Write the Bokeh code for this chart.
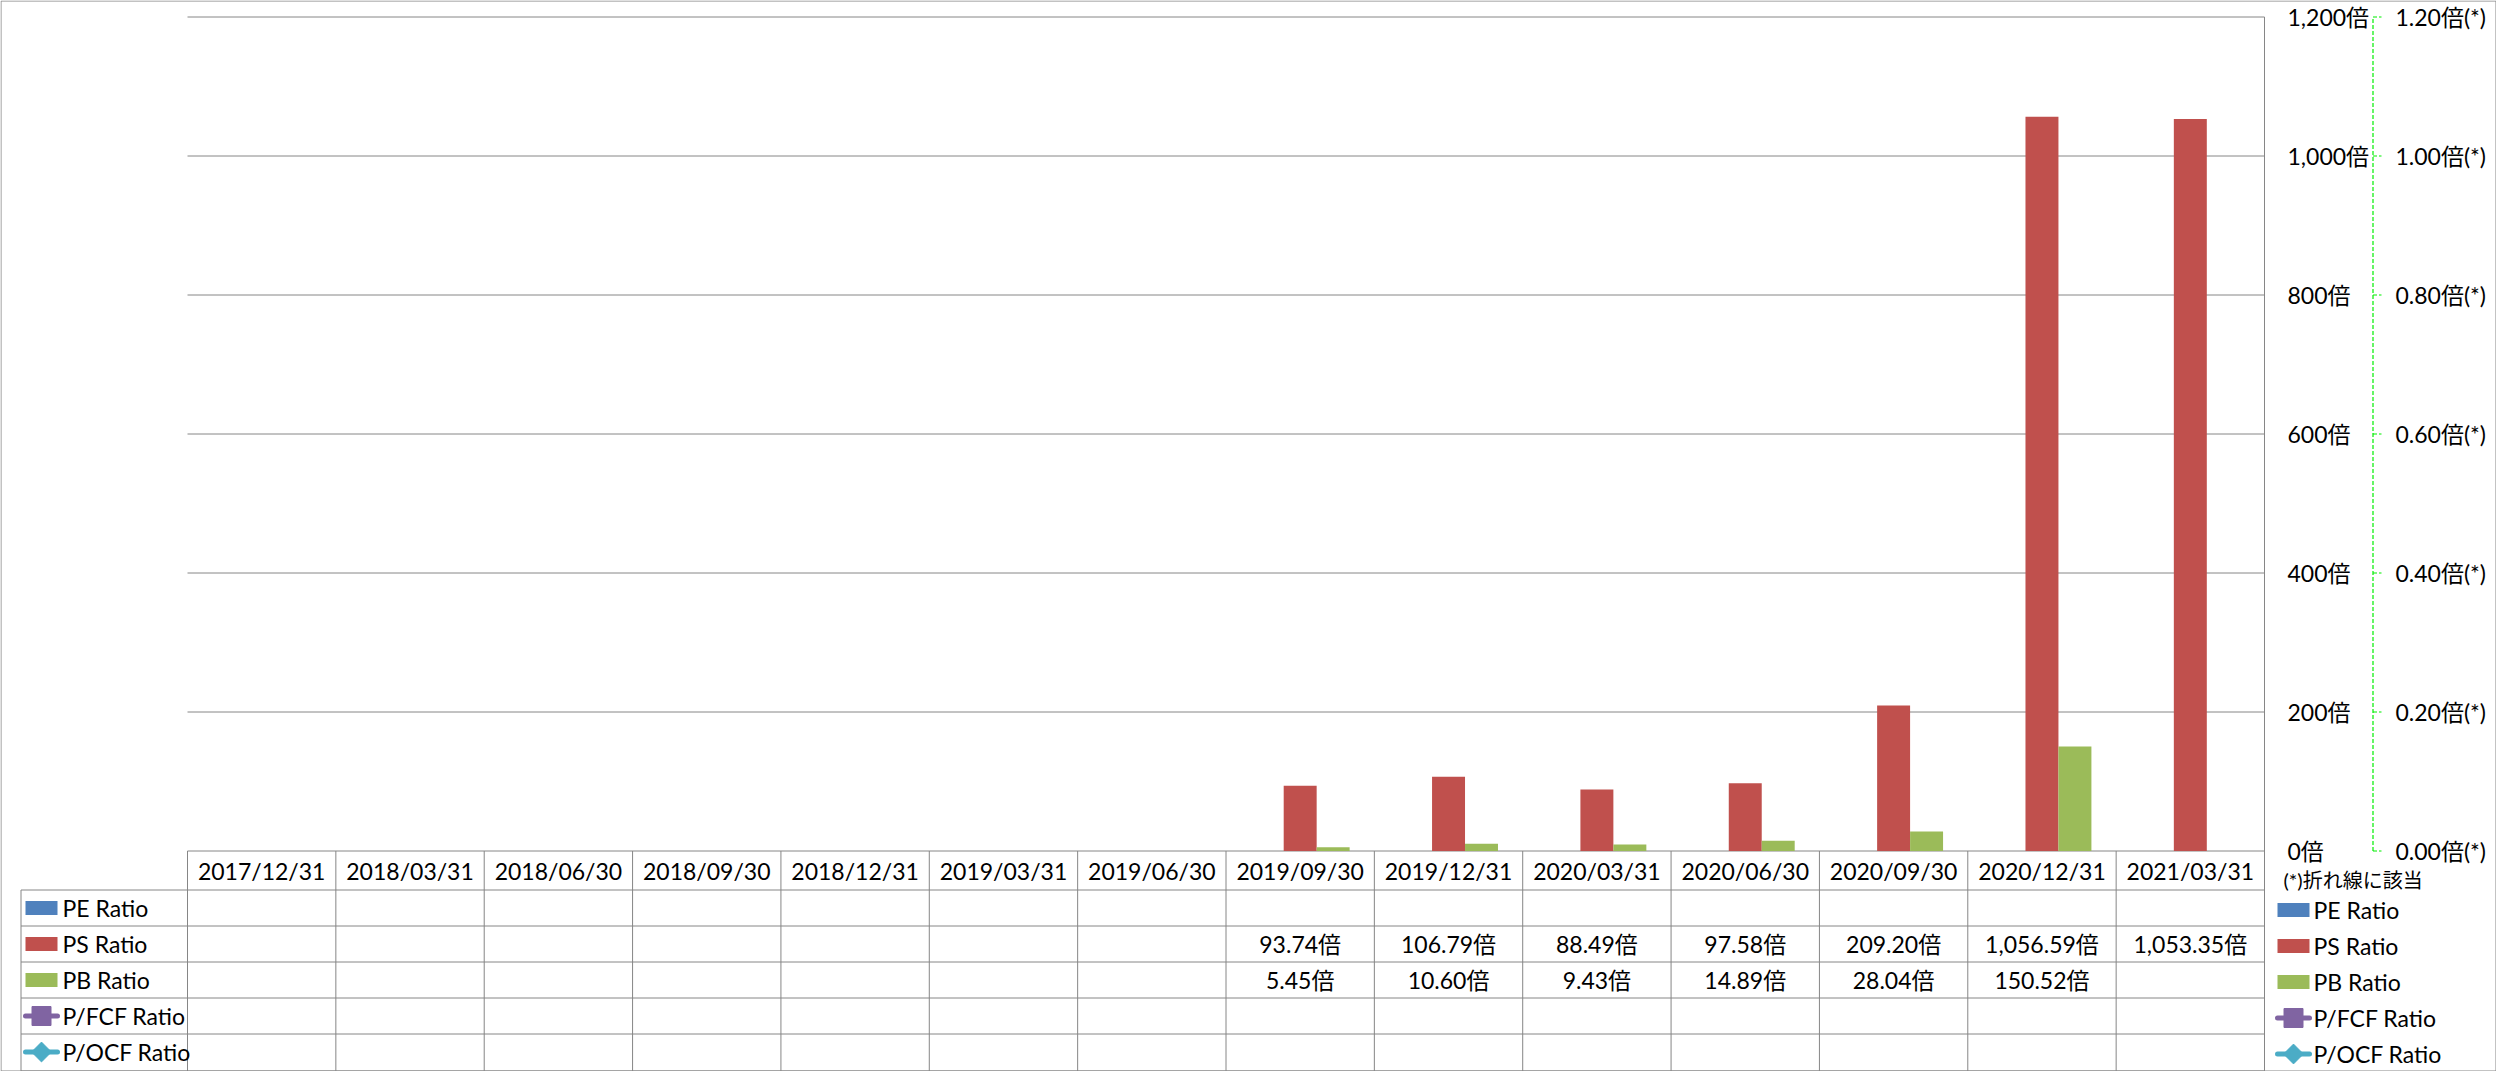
import math
from bokeh.plotting import figure
from bokeh.models import Range1d, ColumnDataSource
from bokeh.core.properties import value
from bokeh.embed import file_html
from bokeh.resources import INLINE

NaN = float("nan")

# ---------------- data ----------------
categories = ["2017/12/31", "2018/03/31", "2018/06/30", "2018/09/30", "2018/12/31",
              "2019/03/31", "2019/06/30", "2019/09/30", "2019/12/31", "2020/03/31",
              "2020/06/30", "2020/09/30", "2020/12/31", "2021/03/31"]
series_names = ["PE Ratio", "PS Ratio", "PB Ratio", "P/FCF Ratio", "P/OCF Ratio"]
pe_ratio = [NaN] * 14
ps_ratio = [NaN] * 7 + [93.74, 106.79, 88.49, 97.58, 209.20, 1056.59, 1053.35]
pb_ratio = [NaN] * 7 + [5.45, 10.60, 9.43, 14.89, 28.04, 150.52, NaN]
pfcf_ratio = [NaN] * 14
pocf_ratio = [NaN] * 14
primary_ticks = [0, 200, 400, 600, 800, 1000, 1200]
primary_tick_labels = ["0倍", "200倍", "400倍", "600倍", "800倍", "1,000倍", "1,200倍"]
secondary_ticks = [0.0, 0.2, 0.4, 0.6, 0.8, 1.0, 1.2]
secondary_tick_labels = ["0.00倍(*)", "0.20倍(*)", "0.40倍(*)", "0.60倍(*)",
                         "0.80倍(*)", "1.00倍(*)", "1.20倍(*)"]
note_label = "(*)折れ線に該当"
unit = "倍"

# ---------------- layout / style ----------------
W, H = 2496, 1071
PLOT_L, PLOT_R, PLOT_T, PLOT_B = 187.0, 2264.0, 16.5, 850.5
Y_MAX = 1200.0
SEC_MAX = 1.2
N = len(categories)
cat_w = (PLOT_R - PLOT_L) / N
x_start = -PLOT_L / cat_w
x_end = (W - PLOT_L) / cat_w
ppu = (PLOT_B - PLOT_T) / Y_MAX
y_start = -(H - PLOT_B) / ppu
y_end = Y_MAX + PLOT_T / ppu
sec_k = SEC_MAX / Y_MAX

FONT = value("Lato, Noto Sans CJK JP")
FS = "23px"
GRAY = "#868686"
COLORS = ["#4F81BD", "#C0504D", "#9BBB59", "#8064A2", "#4BACC6"]
GREEN_AXIS = "#00ee00"

TABLE_TOP = 850.5
HEADER_H = 39.0
ROW_H = 36.0
LEG_L = 20.5
BAR_W = 1 / 4.5

p = figure(width=W, height=H,
           x_range=Range1d(x_start, x_end), y_range=Range1d(y_start, y_end),
           x_axis_location=None, y_axis_location=None,
           output_backend="svg", toolbar_location=None, min_border=0,
           background_fill_color="white", border_fill_color="white",
           outline_line_color=None)
p.xgrid.visible = False
p.ygrid.visible = False
p.extra_x_ranges = {"px": Range1d(0, W)}
p.extra_y_ranges = {"py": Range1d(H, 0),
                    "sec": Range1d(y_start * sec_k, y_end * sec_k)}

# outer border
p.quad(left=[0.5], right=[W - 0.5], top=[0.5], bottom=[H - 0.5],
       fill_alpha=0, line_color=GRAY, line_width=1,
       x_range_name="px", y_range_name="py")

# horizontal gridlines (plot area)
p.segment(x0=[0] * len(primary_ticks), x1=[N] * len(primary_ticks),
          y0=primary_ticks, y1=primary_ticks, line_color=GRAY, line_width=1)

# bars
all_series = [pe_ratio, ps_ratio, pb_ratio, pfcf_ratio, pocf_ratio]
bar_series = [pe_ratio, ps_ratio, pb_ratio]
offsets = [-BAR_W, 0.0, BAR_W]
for vals, off, col in zip(bar_series, offsets, COLORS[:3]):
    src = ColumnDataSource(dict(x=[i + 0.5 + off for i in range(N)], top=vals))
    p.vbar(x="x", top="top", bottom=0, width=BAR_W, source=src,
           fill_color=col, line_color=None)

# right plot border (extends through table)
p.segment(x0=[N], x1=[N], y0=[Y_MAX], y1=[y_start], line_color=GRAY, line_width=1)

# primary axis labels
p.text(x=[2287] * len(primary_ticks), y=primary_ticks, text=primary_tick_labels,
       x_range_name="px", text_font=FONT, text_font_size=FS, text_color="black",
       text_align="left", text_baseline="middle")

# secondary axis (dashed green line with ticks)
p.segment(x0=[2372.5], x1=[2372.5], y0=[0], y1=[SEC_MAX], x_range_name="px",
          y_range_name="sec", line_color=GREEN_AXIS, line_width=1.2, line_dash="4 2")
p.segment(x0=[2372.5] * len(secondary_ticks), x1=[2381] * len(secondary_ticks),
          y0=secondary_ticks, y1=secondary_ticks, x_range_name="px",
          y_range_name="sec", line_color=GREEN_AXIS, line_width=1.2, line_dash="4 2")
p.text(x=[2395] * len(secondary_ticks), y=secondary_ticks, text=secondary_tick_labels,
       x_range_name="px", y_range_name="sec", text_font=FONT, text_font_size=FS,
       text_color="black", text_align="left", text_baseline="middle")

p.text(x=[2283], y=[879], text=[note_label], x_range_name="px", y_range_name="py",
       text_font=FONT, text_font_size="20px", text_color="black",
       text_align="left", text_baseline="middle")

# ---------------- data table ----------------
row_tops = [TABLE_TOP + HEADER_H + k * ROW_H for k in range(len(series_names))]
row_lines = row_tops + [H - 0.5]
row_centers = [t + ROW_H / 2 for t in row_tops]

# horizontal table lines
p.segment(x0=[LEG_L] * len(row_lines), x1=[PLOT_R] * len(row_lines),
          y0=row_lines, y1=row_lines, x_range_name="px", y_range_name="py",
          line_color=GRAY, line_width=1)
# vertical column lines
p.segment(x0=list(range(N)), x1=list(range(N)), y0=[TABLE_TOP] * N, y1=[H - 0.5] * N,
          y_range_name="py", line_color=GRAY, line_width=1)
p.segment(x0=[LEG_L], x1=[LEG_L], y0=[row_tops[0]], y1=[H - 0.5],
          x_range_name="px", y_range_name="py", line_color=GRAY, line_width=1)

# header labels
p.text(x=[i + 0.5 for i in range(N)], y=[TABLE_TOP + HEADER_H / 2] * N, text=categories,
       y_range_name="py", text_font=FONT, text_font_size=FS, text_color="black",
       text_align="center", text_baseline="middle")

# cell values
cx, cy, ct = [], [], []
for r, vals in enumerate(all_series):
    for i, v in enumerate(vals):
        if not math.isnan(v):
            cx.append(i + 0.5)
            cy.append(row_centers[r])
            ct.append(f"{v:,.2f}{unit}")
p.text(x=cx, y=cy, text=ct, y_range_name="py", text_font=FONT, text_font_size=FS,
       text_color="black", text_align="center", text_baseline="middle")


# ---------------- legends (left in table, right of chart) ----------------
def draw_legend(sw_c, text_x, dy):
    ys = [c + dy for c in row_centers]
    for k in range(3):
        p.rect(x=[sw_c], y=[ys[k]], width=32, height=14, x_range_name="px",
               y_range_name="py", fill_color=COLORS[k], line_color=None)
    for k, (marker, size, ang) in zip([3, 4], [("square", 19, 0.0),
                                            ("square", 14, math.pi / 4)]):
        p.segment(x0=[sw_c - 16], x1=[sw_c + 16], y0=[ys[k]], y1=[ys[k]],
                  x_range_name="px", y_range_name="py", line_color=COLORS[k],
                  line_width=5, line_cap="round")
        p.scatter(x=[sw_c], y=[ys[k]], marker=marker, size=size, angle=ang,
                  x_range_name="px", y_range_name="py", fill_color=COLORS[k],
                  line_color=COLORS[k])
    p.text(x=[text_x] * len(series_names), y=ys, text=series_names,
           x_range_name="px", y_range_name="py", text_font=FONT, text_font_size=FS,
           text_color="black", text_align="left", text_baseline="middle")


draw_legend(41, 62, 0)
draw_legend(2293, 2313, 2)

open("out.html", "w").write(file_html(p, INLINE))
